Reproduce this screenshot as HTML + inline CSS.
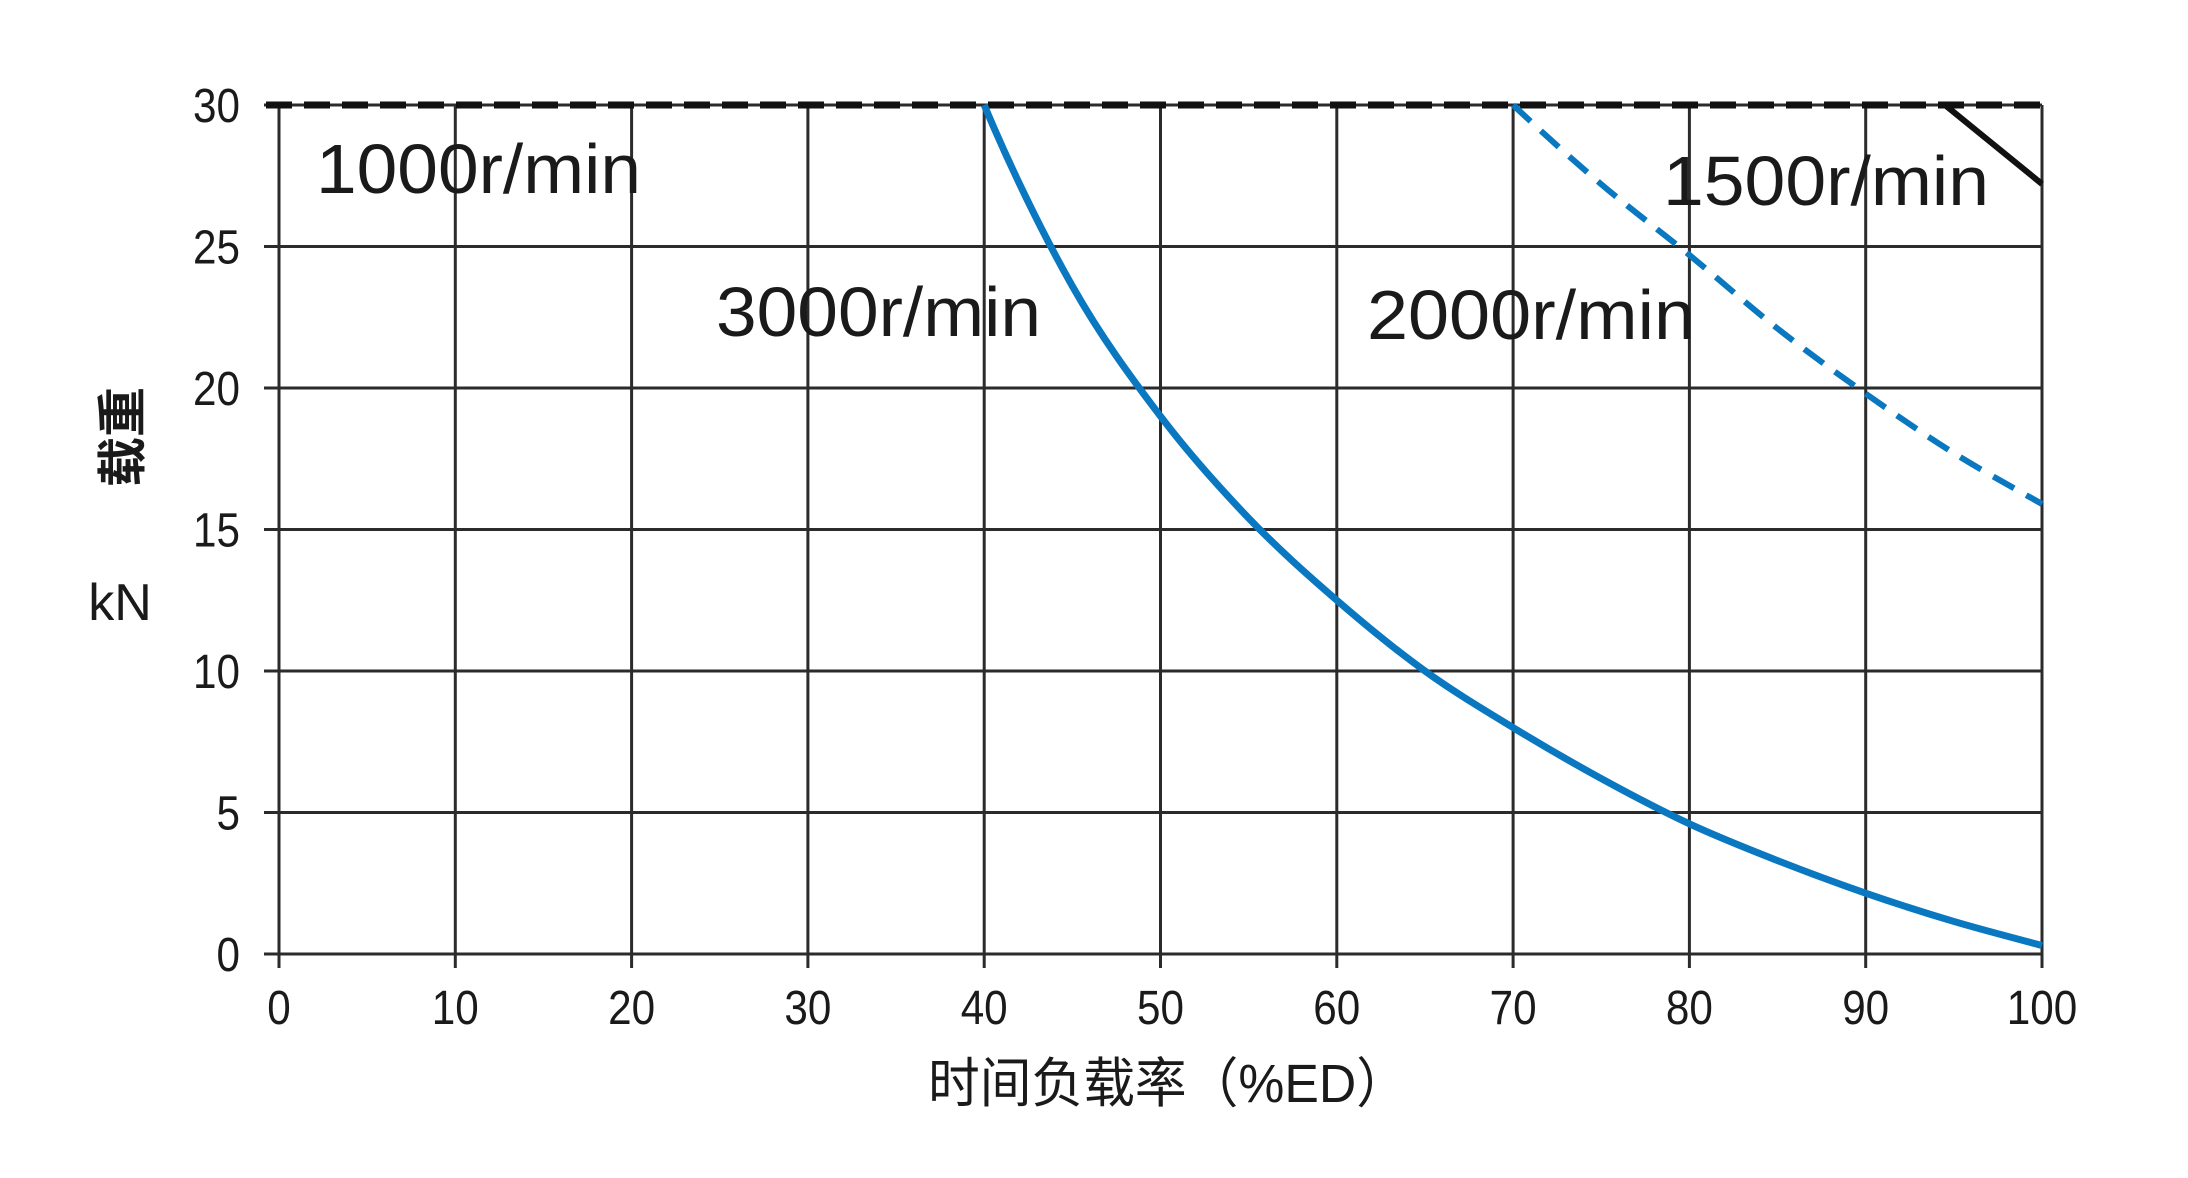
<!DOCTYPE html>
<html><head><meta charset="utf-8"><style>
html,body{margin:0;padding:0;background:#fff;}
svg{display:block;}
text{font-family:"Liberation Sans","Noto Sans CJK SC",sans-serif;fill:#1a1a1a;}
</style></head><body>
<svg id="s" width="2188" height="1178" viewBox="0 0 2188 1178" xmlns="http://www.w3.org/2000/svg">
<g id="grid" stroke="#2b2b2b" stroke-width="3"></g>
<g id="lbl"></g>
<line x1="266" y1="105" x2="2042" y2="105" stroke="#111" stroke-width="7" stroke-dasharray="26,12"/>
<path id="blue" fill="none" stroke="#0a78c0" stroke-width="7"/>
<path id="blued" fill="none" stroke="#0a78c0" stroke-width="6" stroke-dasharray="24,14"/>
<line x1="1945" y1="105" x2="2042" y2="184" stroke="#111" stroke-width="6"/>
<g font-size="70">
<text x="316" y="193" textLength="325" lengthAdjust="spacingAndGlyphs">1000r/min</text>
<text x="716" y="336" textLength="325" lengthAdjust="spacingAndGlyphs">3000r/min</text>
<text x="1367" y="339" textLength="328" lengthAdjust="spacingAndGlyphs">2000r/min</text>
<text x="1663" y="205" textLength="326" lengthAdjust="spacingAndGlyphs">1500r/min</text>
</g>
<text transform="translate(140,437) rotate(-90)" font-size="50" font-weight="bold" text-anchor="middle">载重</text>
<text x="120" y="620" font-size="52" text-anchor="middle">kN</text>
<text x="1168" y="1102" font-size="54" text-anchor="middle" textLength="480" lengthAdjust="spacingAndGlyphs">时间负载率（%ED）</text>
</svg>
<script>
var X=function(v){return 279+17.63*v},Y=function(v){return 954-28.3*v};
var g=document.getElementById('grid'),l=document.getElementById('lbl'),ns='http://www.w3.org/2000/svg';
function el(p,tag,a,t){var e=document.createElementNS(ns,tag);for(var k in a)e.setAttribute(k,a[k]);if(t!==undefined)e.textContent=t;p.appendChild(e);}
for(var i=0;i<=10;i++){var x=X(i*10);el(g,'line',{x1:x,y1:105,x2:x,y2:968});
el(l,'text',{x:x,y:1024,'font-size':48,'text-anchor':'middle',transform:'translate('+(x*0.12)+',0) scale(0.88,1)'},String(i*10));}
for(var j=0;j<=6;j++){var y=Y(j*5);el(g,'line',{x1:264,y1:y,x2:2042,y2:y});
el(l,'text',{x:240,y:y+17,'font-size':48,'text-anchor':'end',transform:'translate('+(240*0.12)+',0) scale(0.88,1)'},String(j*5));}
function cr(pts){var d='M'+X(pts[1][0])+','+Y(pts[1][1]);for(var i=1;i<pts.length-1;i++){var p0=pts[i-1],p1=pts[i],p2=pts[i+1],p3=pts[Math.min(i+2,pts.length-1)];
var a=[X(p0[0]),Y(p0[1])],b=[X(p1[0]),Y(p1[1])],c=[X(p2[0]),Y(p2[1])],e=[X(p3[0]),Y(p3[1])];
d+=' C'+(b[0]+(c[0]-a[0])/6)+','+(b[1]+(c[1]-a[1])/6)+' '+(c[0]-(e[0]-b[0])/6)+','+(c[1]-(e[1]-b[1])/6)+' '+c[0]+','+c[1];}return d;}
document.getElementById('blue').setAttribute('d',cr([[36,37],[40,30],[45,23.6],[50,19],[55,15.4],[60,12.5],[65,10],[70,8],[75,6.2],[80,4.6],[85,3.3],[90,2.15],[95,1.15],[100,0.3]]));
document.getElementById('blued').setAttribute('d',cr([[66,32.5],[70,30],[75,27.2],[80,24.7],[85,22.1],[90,19.8],[95,17.7],[100,15.9]]));
</script>
</body></html>
